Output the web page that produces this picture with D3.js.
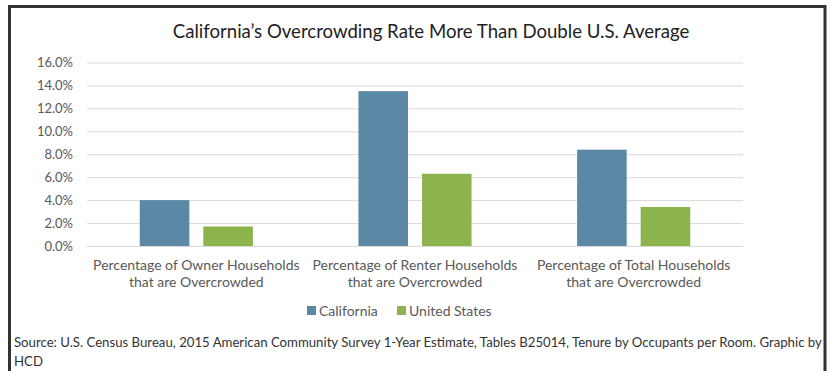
<!DOCTYPE html>
<html>
<head>
<meta charset="utf-8">
<script src="https://cdn.jsdelivr.net/npm/d3@7"></script>
<style>
  body { margin: 0; background: #fff; }
  svg text { font-family: Lato, "Open Sans", sans-serif; }
</style>
</head>
<body>
<svg id="chart" width="832" height="371"></svg>
<script>
// data
const categories = [
    ["Percentage of Owner Households", "that are Overcrowded"],
    ["Percentage of Renter Households", "that are Overcrowded"],
    ["Percentage of Total Households", "that are Overcrowded"]
];
const seriesNames = ["California", "United States"];
const california = [4.0, 13.5, 8.4];
const unitedStates = [1.7, 6.3, 3.4];
const yTicks = [0, 2, 4, 6, 8, 10, 12, 14, 16];
const colors = ["#5b88a5", "#8db34c"];

const svg = d3.select("#chart");

// outer frame (left, top, right edges only)
svg.append("path")
    .attr("d", "M9.5,371 V6.5 H825 V371")
    .attr("fill", "none")
    .attr("stroke", "#333")
    .attr("stroke-width", 3);

svg.append("text")
    .attr("x", 431)
    .attr("y", 38)
    .attr("text-anchor", "middle")
    .attr("font-size", 18.6)
    .attr("fill", "#222")
    .text("California\u2019s Overcrowding Rate More Than Double U.S. Average");

// scales
const plot = { left: 87, right: 743, top: 62.5, bottom: 246 };

const x0 = d3.scaleBand()
    .domain(d3.range(categories.length))
    .range([plot.left, plot.right]);

const x1 = d3.scaleBand()
    .domain(seriesNames)
    .range([0, x0.bandwidth()])
    .paddingInner(0.22)
    .paddingOuter(0.83);

const y = d3.scaleLinear()
    .domain([0, 16])
    .range([plot.bottom, plot.top]);

// gridlines + y labels
const yAxis = svg.append("g")
    .attr("transform", `translate(${plot.left},0)`)
    .call(d3.axisLeft(y)
        .tickValues(yTicks)
        .tickSize(-(plot.right - plot.left))
        .tickPadding(14)
        .tickFormat(d => d.toFixed(1) + "%"));
yAxis.select(".domain").remove();
yAxis.selectAll(".tick line").attr("stroke", "#d9d9d9");
yAxis.selectAll(".tick text")
    .attr("font-size", 13)
    .attr("fill", "#595959")
    .style("font-family", "Lato, sans-serif");

// bars
const rows = categories.map((c, i) => ({ i, values: [california[i], unitedStates[i]] }));

svg.append("g").selectAll("g")
    .data(rows)
    .join("g")
    .attr("transform", d => `translate(${x0(d.i)},0)`)
    .selectAll("rect")
    .data(d => d.values.map((v, k) => ({ name: seriesNames[k], value: v, k })))
    .join("rect")
    .attr("x", d => x1(d.name))
    .attr("y", d => y(d.value))
    .attr("width", x1.bandwidth())
    .attr("height", d => y(0) - y(d.value))
    .attr("fill", d => colors[d.k]);

// category labels
const catLabels = svg.append("g").selectAll("text")
    .data(categories)
    .join("text")
    .attr("text-anchor", "middle")
    .attr("font-size", 14)
    .attr("fill", "#595959");
catLabels.each(function(lines, i) {
    const t = d3.select(this);
    lines.forEach((line, j) => {
        t.append("tspan")
            .attr("x", x0(i) + x0.bandwidth() / 2)
            .attr("y", 270 + j * 16.5)
            .text(line);
    });
});

// legend
const legend = svg.append("g").attr("transform", "translate(307,316)");
const legendX = [0, 90];
seriesNames.forEach((name, k) => {
    const item = legend.append("g").attr("transform", `translate(${legendX[k]},0)`);
    item.append("rect")
        .attr("x", 0).attr("y", -10)
        .attr("width", 9).attr("height", 9)
        .attr("fill", colors[k]);
    item.append("text")
        .attr("x", 12).attr("y", 0)
        .attr("font-size", 14)
        .attr("fill", "#595959")
        .text(name);
});

// source note
const source = svg.append("text")
    .attr("font-size", 13.2)
    .attr("fill", "#333");
source.append("tspan").attr("x", 14).attr("y", 347)
    .text("Source: U.S. Census Bureau, 2015 American Community Survey 1-Year Estimate, Tables B25014, Tenure by Occupants per Room. Graphic by");
source.append("tspan").attr("x", 14).attr("y", 366)
    .text("HCD");
</script>
</body>
</html>
